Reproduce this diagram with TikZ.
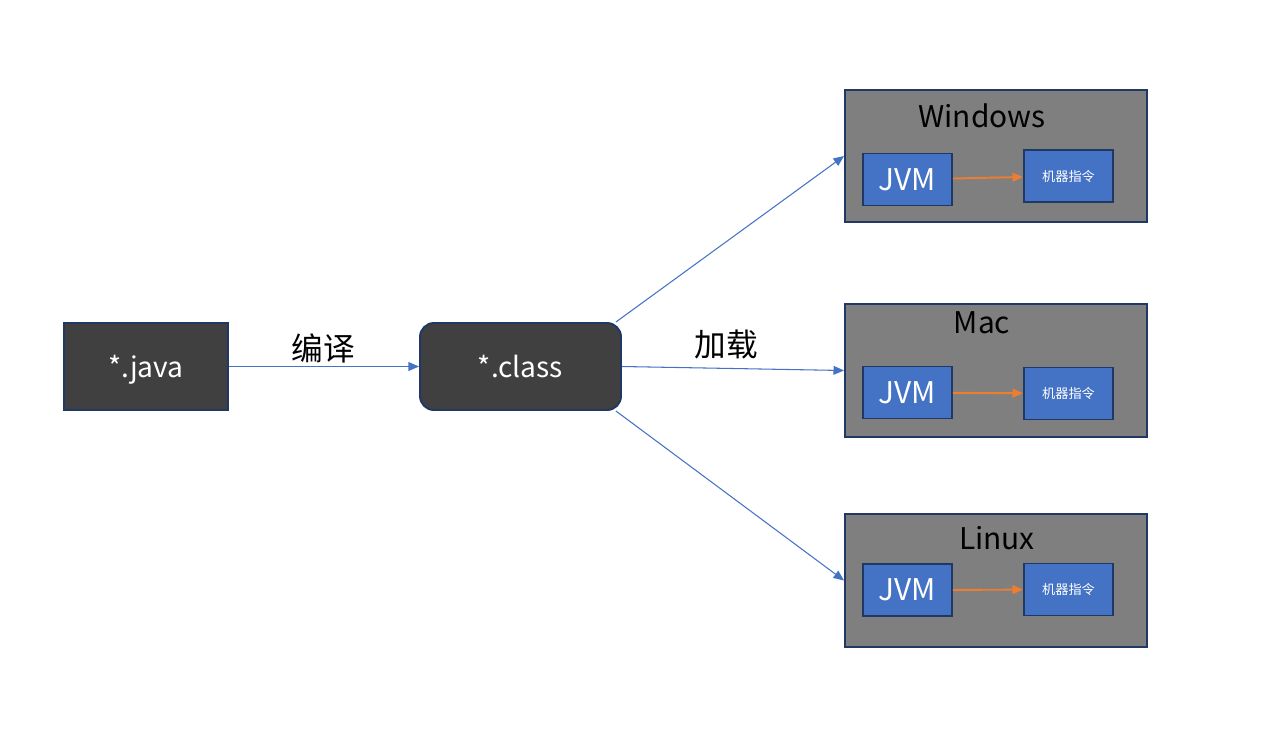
\documentclass[tikz,border=0pt]{standalone}
\usepackage{fontspec}
\setmainfont{Noto Sans CJK SC}
\usetikzlibrary{arrows.meta, positioning}
\usepackage{xcolor}
\definecolor{boxdark}{HTML}{404040}
\definecolor{boxline}{HTML}{1F3864}
\definecolor{osgray}{HTML}{7F7F7F}
\definecolor{jvmblue}{HTML}{4472C4}
\definecolor{arrorange}{HTML}{ED7D31}

\begin{document}
\begin{tikzpicture}[>={Triangle[length=6pt,width=5pt]}]
    \tikzstyle{file}=[rectangle,fill=boxdark,draw=boxline,line width=1.1pt,text=white,font=\fontsize{16}{18}\selectfont,inner sep=0pt,text height=1.45em,text depth=0.22em]
    \tikzstyle{source}=[file,minimum width=3.28cm,minimum height=1.74cm]
    \tikzstyle{bytecode}=[file,rounded corners=0.28cm,minimum width=4.02cm,minimum height=1.74cm]
    \tikzstyle{os}=[rectangle,fill=osgray,draw=boxline,line width=1.1pt,minimum width=6.04cm,minimum height=2.65cm]
    \tikzstyle{jvm}=[rectangle,fill=jvmblue,draw=boxline,line width=1.1pt,text=white,minimum width=1.78cm,minimum height=1.04cm,inner sep=0pt,font=\fontsize{17}{19}\selectfont]
    \tikzstyle{cmd}=[jvm,font=\fontsize{7.5}{9}\selectfont]
    \tikzstyle{osname}=[font=\fontsize{17}{19}\selectfont]
    \tikzstyle{load}=[->,draw=jvmblue,line width=0.6pt]
    \tikzstyle{run}=[->,draw=arrorange,line width=1.1pt]

    \useasboundingbox (0,0) rectangle (25.4,-14.68);

    \node[source] (java) at (2.92,-7.33) {*.java};
    \node[bytecode] (cls) at (10.41,-7.33) {*.class};

    \node[os] (win) at (19.92,-3.12) {};
    \node[os] (mac) at (19.92,-7.41) {};
    \node[os] (linux) at (19.92,-11.61) {};

    \node[osname] (win-name) at (19.64,-2.32) {Windows};
    \node[osname] (mac-name) at (19.64,-6.46) {Mac};
    \node[osname] (linux-name) at (19.94,-10.76) {Linux};

    \node[jvm] (jvm-1) at (18.15,-3.59) {JVM};
    \node[cmd] (cmd-1) at (21.37,-3.52) {机器指令};
    \node[jvm] (jvm-2) at (18.15,-7.85) {JVM};
    \node[cmd] (cmd-2) at (21.37,-7.87) {机器指令};
    \node[jvm] (jvm-3) at (18.15,-11.80) {JVM};
    \node[cmd] (cmd-3) at (21.37,-11.79) {机器指令};

    \draw[load] (java) -- (cls);
    \node[font=\fontsize{18}{20}\selectfont] (compile) at (6.46,-6.96) {编译};

    \draw[load] (cls.25) -- (win.west);
    \draw[load] (cls.east) -- (mac.west);
    \draw[load] (cls.-25) -- (linux.west);
    \node[font=\fontsize{18}{20}\selectfont] (loading) at (14.52,-6.88) {加载};

    \draw[run] (jvm-1) -- (cmd-1);
    \draw[run] (jvm-2) -- (cmd-2);
    \draw[run] (jvm-3) -- (cmd-3);
\end{tikzpicture}
\end{document}
